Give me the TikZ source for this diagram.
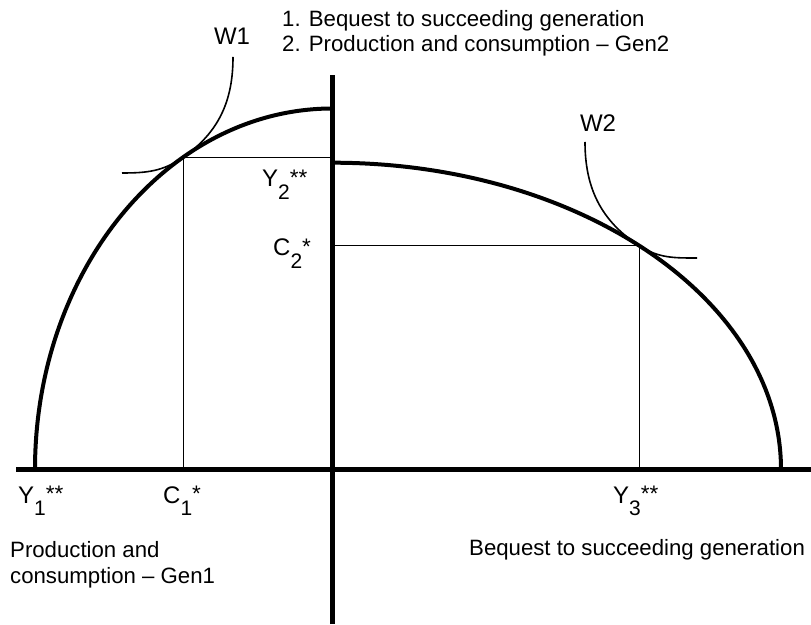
\documentclass[tikz,border=0pt]{standalone}
\usepackage{fontspec}
\setmainfont{Liberation Sans}
\usetikzlibrary{calc}
\newcommand\mylab[3]{#1\raisebox{-13pt}{\fontsize{21}{21}\selectfont #2}\raisebox{1pt}{\fontsize{22.5}{22}\selectfont #3}}
\begin{document}
\begin{tikzpicture}[x=1pt,y=1pt,
  axisline/.style={line width=4.5pt},
  frontier/.style={line width=4pt},
  guide/.style={line width=0.9pt},
  indiff/.style={line width=1.6pt},
  lbl/.style={inner sep=0pt,anchor=base west,font=\fontsize{24}{28}\selectfont},
  txt/.style={inner sep=0pt,anchor=base west,font=\fontsize{22.2}{26}\selectfont}]
\useasboundingbox (0,0) rectangle (811,624);
\fill[white] (0,0) rectangle (811,624);
\coordinate (O) at (332.5,154.5);
\coordinate (xl) at (16,154.5);
\coordinate (xr) at (811,154.5);
\coordinate (yt) at (332.5,549);
\coordinate (yb) at (332.5,0);
\coordinate (L0) at ($(O)+(-297.5,0)$);
\coordinate (R0) at ($(O)+(0,306.8)$);
\coordinate (T1) at ($(O)+(120.1:297.5 and 361)$);
\coordinate (T2) at ($(O)+(46.8:448.5 and 306.8)$);
\coordinate (T1y) at (O |- T1);
\coordinate (T1x) at (T1 |- O);
\coordinate (T2y) at (O |- T2);
\coordinate (T2x) at (T2 |- O);
\coordinate (W1a) at (122,451);
\coordinate (W1b) at (233,567);
\coordinate (W2a) at (585,482);
\coordinate (W2b) at (697,366);
% axes
\draw[axisline] (xl) -- (xr);
\draw[axisline] (yb) -- (yt);
% frontiers
\draw[frontier] (L0) arc[start angle=180,end angle=90,x radius=297.5,y radius=361];
\draw[frontier] (R0) arc[start angle=90,end angle=0,x radius=448.5,y radius=306.8];
% guides
\draw[guide] (T1y) -- (T1) -- (T1x);
\draw[guide] (T2y) -- (T2) -- (T2x);
% indifference curves
\draw[indiff] (W1a) to[out=0,in=215.1] (T1) to[out=35.1,in=-90] (W1b);
\draw[indiff] (W2a) to[out=-90,in=147.3] (T2) to[out=-32.7,in=180] (W2b);
% labels
\node[lbl,anchor=center] (w1) at (232,588) {W1};
\node[lbl,anchor=center] (w2) at (598,501) {W2};
\node[lbl] (y2) at (262,437) {\mylab{Y}{2}{**}};
\node[lbl] (c2) at (273,368) {\mylab{C}{2}{*}};
\node[lbl] (y1) at (18,121) {\mylab{Y}{1}{**}};
\node[lbl] (c1) at (163,121) {\mylab{C}{1}{*}};
\node[lbl] (y3) at (613,121) {\mylab{Y}{3}{**}};
\node[txt] (t1) at (282,597) {1. Bequest to succeeding generation};
\node[txt] (t2) at (282,572) {2. Production and consumption – Gen2};
\node[txt] (p1) at (10,67) {Production and};
\node[txt] (p2) at (10,41) {consumption – Gen1};
\node[txt] (bq) at (469,69) {Bequest to succeeding generation};
\end{tikzpicture}
\end{document}
